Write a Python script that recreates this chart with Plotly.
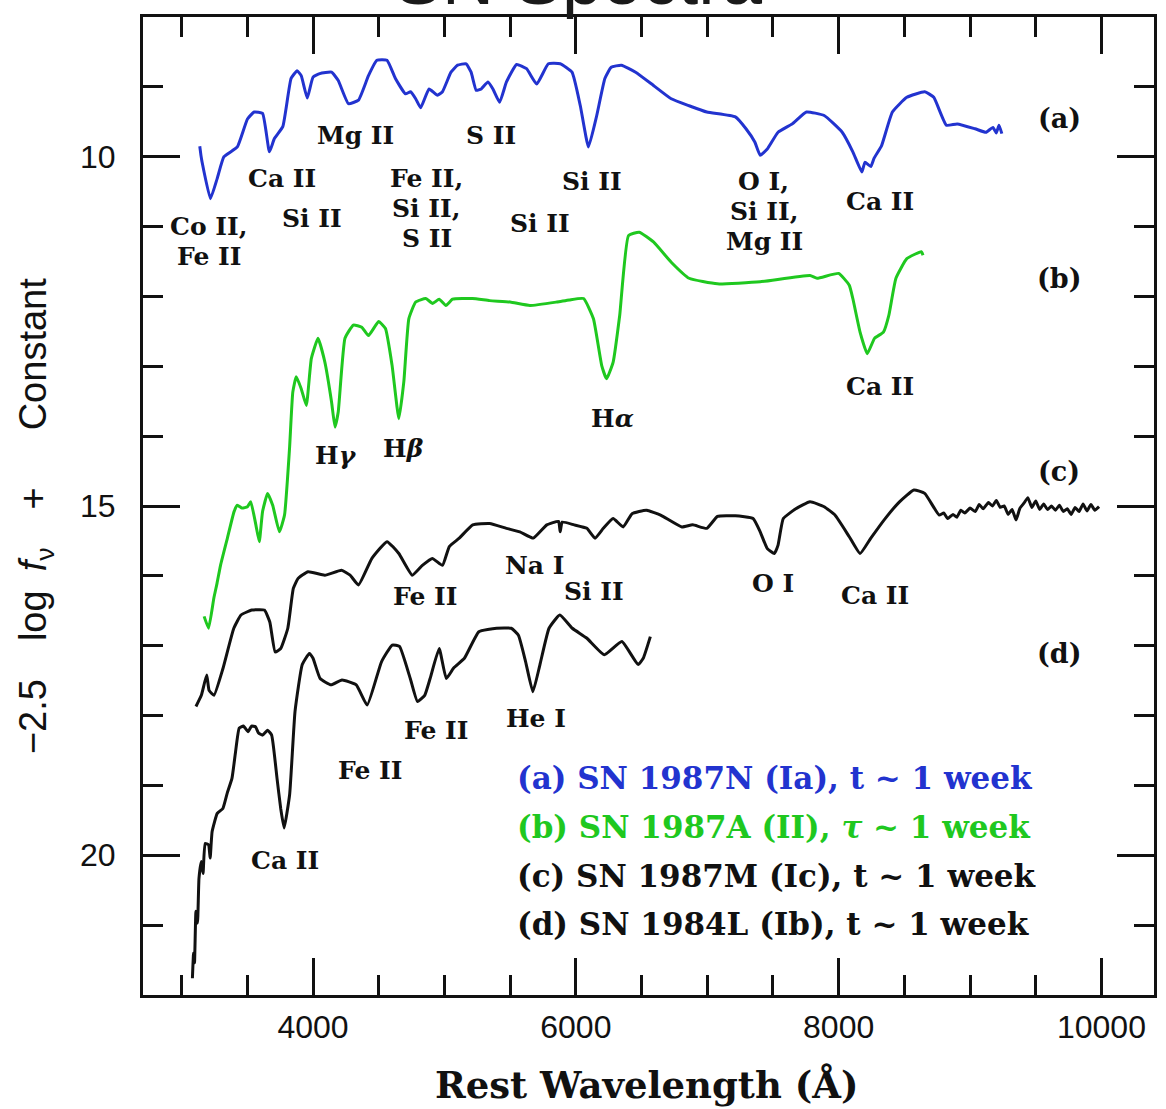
import plotly.graph_objects as go

# ---- spectra (rest wavelength in Angstrom, -2.5 log f_nu + constant) ----
wave_a = [3138, 3147, 3155, 3219, 3271, 3322, 3424, 3501, 3552, 3616, 3668, 3706, 3770, 3833, 3879,
          3910, 3956, 4000, 4051, 4141, 4192, 4269, 4346, 4422, 4486, 4563, 4627, 4704, 4742, 4781,
          4819, 4883, 4947, 4985, 5050, 5100, 5165, 5203, 5242, 5280, 5331, 5369, 5420, 5472, 5549,
          5625, 5702, 5791, 5881, 5971, 6034, 6096, 6159, 6221, 6269, 6347, 6455, 6591, 6726, 6862,
          6997, 7214, 7295, 7362, 7403, 7457, 7539, 7647, 7755, 7890, 8027, 8108, 8177, 8200, 8245,
          8270, 8327, 8409, 8519, 8655, 8724, 8820, 8902, 9038, 9121, 9174, 9200, 9220, 9242]
flux_a = [9.85, 9.98, 10.07, 10.60, 10.31, 10.00, 9.86, 9.46, 9.36, 9.38, 9.93, 9.74, 9.57, 8.88, 8.77,
          8.84, 9.16, 8.86, 8.81, 8.79, 8.91, 9.24, 9.19, 8.84, 8.62, 8.62, 8.88, 9.10, 9.07, 9.17,
          9.30, 9.03, 9.12, 9.07, 8.79, 8.69, 8.67, 8.79, 9.05, 9.03, 8.93, 9.03, 9.22, 8.93, 8.68,
          8.74, 8.96, 8.67, 8.67, 8.79, 9.27, 9.86, 9.41, 8.88, 8.72, 8.69, 8.79, 8.98, 9.17, 9.27,
          9.36, 9.43, 9.60, 9.79, 9.98, 9.89, 9.65, 9.53, 9.36, 9.41, 9.65, 9.93, 10.22, 10.08, 10.14,
          10.02, 9.84, 9.36, 9.15, 9.07, 9.15, 9.55, 9.53, 9.60, 9.65, 9.58, 9.66, 9.55, 9.67]

wave_b = [3171, 3205, 3245, 3270, 3296, 3347, 3399, 3424, 3460, 3501, 3526, 3565, 3591, 3616, 3654,
          3693, 3744, 3783, 3821, 3846, 3872, 3910, 3949, 3987, 4038, 4090, 4141, 4167, 4192, 4243,
          4307, 4371, 4422, 4499, 4551, 4601, 4653, 4691, 4729, 4781, 4858, 4910, 4960, 5011, 5062,
          5213, 5344, 5500, 5651, 5856, 5950, 6059, 6134, 6197, 6234, 6284, 6334, 6401, 6482, 6591,
          6726, 6862, 7077, 7403, 7782, 7836, 8000, 8081, 8108, 8163, 8218, 8273, 8341, 8382, 8436,
          8519, 8629, 8642]
flux_b = [16.58, 16.75, 16.32, 16.10, 15.85, 15.47, 15.08, 14.99, 15.03, 15.01, 14.94, 15.27, 15.51, 15.08, 14.82,
          14.99, 15.37, 15.13, 14.18, 13.37, 13.15, 13.32, 13.56, 12.89, 12.60, 12.94, 13.51, 13.87, 13.65, 12.60,
          12.41, 12.44, 12.56, 12.36, 12.46, 12.98, 13.75, 13.22, 12.32, 12.08, 12.03, 12.10, 12.04, 12.13, 12.04,
          12.03, 12.06, 12.08, 12.13, 12.08, 12.05, 12.03, 12.32, 12.99, 13.18, 12.94, 12.27, 11.13, 11.08, 11.22,
          11.51, 11.74, 11.82, 11.79, 11.70, 11.74, 11.67, 11.84, 12.03, 12.51, 12.82, 12.60, 12.51, 12.27, 11.74,
          11.46, 11.36, 11.41]

wave_c = [3109, 3150, 3191, 3209, 3246, 3314, 3397, 3452, 3534, 3630, 3671, 3712, 3754, 3808, 3850,
          3885, 3962, 4090, 4217, 4282, 4346, 4448, 4563, 4653, 4755, 4832, 4908, 4985, 5037, 5113,
          5215, 5344, 5472, 5574, 5676, 5779, 5868, 5881, 5896, 5987, 6084, 6146, 6209, 6284, 6360,
          6428, 6537, 6645, 6807, 6889, 6997, 7078, 7214, 7349, 7403, 7457, 7511, 7539, 7579, 7674,
          7782, 7890, 7972, 8081, 8163, 8245, 8354, 8463, 8573, 8655, 8765, 8800, 8830, 8870, 8900,
          8930, 8960, 9000, 9040, 9070, 9100, 9140, 9170, 9200, 9230, 9260, 9290, 9320, 9350, 9380,
          9410, 9440, 9470, 9500, 9530, 9560, 9590, 9620, 9650, 9680, 9710, 9740, 9770, 9800, 9830,
          9860, 9890, 9920, 9950, 9982]
flux_c = [17.87, 17.71, 17.42, 17.64, 17.71, 17.33, 16.75, 16.56, 16.49, 16.49, 16.66, 17.09, 17.04, 16.75, 16.18,
          16.04, 15.94, 15.99, 15.92, 15.99, 16.13, 15.75, 15.51, 15.68, 15.99, 15.85, 15.75, 15.85, 15.58, 15.46,
          15.27, 15.25, 15.32, 15.37, 15.46, 15.27, 15.22, 15.37, 15.23, 15.27, 15.32, 15.46, 15.32, 15.18, 15.30,
          15.11, 15.06, 15.13, 15.30, 15.27, 15.32, 15.15, 15.14, 15.18, 15.37, 15.61, 15.68, 15.56, 15.18, 15.04,
          14.94, 15.01, 15.13, 15.44, 15.68, 15.46, 15.18, 14.94, 14.77, 14.82, 15.13, 15.10, 15.18, 15.12, 15.16,
          15.06, 15.10, 15.03, 15.08, 14.98, 15.04, 14.95, 15.00, 14.92, 15.02, 15.00, 15.12, 15.05, 15.20, 15.03,
          14.96, 14.88, 15.02, 14.93, 15.05, 14.97, 15.05, 15.00, 15.06, 14.99, 15.08, 15.04, 15.12, 15.02, 15.08,
          14.97, 15.07, 14.98, 15.06, 15.01]

wave_d = [3082, 3091, 3098, 3109, 3121, 3132, 3150, 3163, 3179, 3205, 3217, 3232, 3271, 3314, 3347,
          3383, 3409, 3438, 3470, 3506, 3532, 3562, 3585, 3616, 3654, 3685, 3726, 3754, 3780, 3822,
          3863, 3918, 3972, 4000, 4054, 4137, 4220, 4329, 4412, 4521, 4603, 4658, 4740, 4795, 4850,
          4891, 4960, 5014, 5070, 5152, 5262, 5397, 5508, 5563, 5618, 5673, 5727, 5796, 5878, 5973,
          6082, 6217, 6350, 6474, 6513, 6567]
flux_d = [21.76, 21.40, 21.54, 20.80, 20.97, 20.33, 20.09, 20.26, 19.83, 19.85, 20.04, 19.66, 19.40, 19.33, 19.11,
          18.90, 18.54, 18.18, 18.15, 18.23, 18.15, 18.16, 18.25, 18.28, 18.21, 18.28, 18.90, 19.33, 19.61, 19.13,
          17.94, 17.27, 17.11, 17.18, 17.47, 17.56, 17.49, 17.56, 17.85, 17.23, 16.99, 17.01, 17.47, 17.80, 17.71,
          17.47, 17.04, 17.47, 17.32, 17.18, 16.80, 16.75, 16.75, 16.85, 17.23, 17.66, 17.27, 16.75, 16.56, 16.75,
          16.89, 17.13, 16.94, 17.27, 17.18, 16.87]

# ---- line identifications ----
ids_a_text = ["Co II,", "Fe II", "Ca II", "Si II", "Mg II", "Fe II,", "Si II,", "S II", "S II",
              "Si II", "Si II", "O I,", "Si II,", "Mg II", "Ca II"]
ids_a_wave = [3201, 3209, 3762, 3992, 4322, 4860, 4860, 4868, 5351, 5728, 6124, 7430, 7430, 7437, 8318]
ids_a_flux = [11.00, 11.43, 10.31, 10.89, 9.70, 10.31, 10.74, 11.17, 9.70, 10.96, 10.36, 10.36, 10.79, 11.22, 10.64]

ids_b_text = ["H<i>γ</i>", "H<i>β</i>", "H<i>α</i>", "Ca II"]
ids_b_wave = [4177, 4691, 6281, 8318]
ids_b_flux = [14.28, 14.18, 13.75, 13.29]

ids_c_text = ["Fe II", "Na I", "Si II", "O I", "Ca II"]
ids_c_wave = [4852, 5689, 6139, 7497, 8280]
ids_c_flux = [16.29, 15.85, 16.22, 16.11, 16.28]

ids_d_text = ["Ca II", "Fe II", "Fe II", "He I"]
ids_d_wave = [3785, 4430, 4937, 5697]
ids_d_flux = [20.08, 18.79, 18.22, 18.04]

# panel letters on the right
tag_text = ["(a)", "(b)", "(c)", "(d)"]
tag_flux = [9.46, 11.74, 14.50, 17.11]
tag_wave = 9680

# key text
key_text = ["(a) SN 1987N (Ia), t ~ 1 week",
            "(b) SN 1987A (II), <i>τ</i> ~ 1 week",
            "(c) SN 1987M (Ic), t ~ 1 week",
            "(d) SN 1984L (Ib), t ~ 1 week"]
key_flux = [18.89, 19.59, 20.29, 20.99]
key_wave = 5536

BLUE = "#2233cf"
GREEN = "#1fc81f"
BLACK = "#111111"
colors = [BLUE, GREEN, BLACK, BLACK]

LABEL_FONT = "DejaVu Serif"
NUM_FONT = "Liberation Sans, Arial, sans-serif"

fig = go.Figure()
for w, f, c in [(wave_a, flux_a, BLUE), (wave_b, flux_b, GREEN),
                (wave_c, flux_c, BLACK), (wave_d, flux_d, BLACK)]:
    fig.add_trace(go.Scatter(x=w, y=f, mode="lines",
                             line=dict(color=c, width=3, shape="spline", smoothing=0.4),
                             showlegend=False, hoverinfo="skip"))

ann = []
for texts, ws, fs in [(ids_a_text, ids_a_wave, ids_a_flux), (ids_b_text, ids_b_wave, ids_b_flux),
                      (ids_c_text, ids_c_wave, ids_c_flux), (ids_d_text, ids_d_wave, ids_d_flux)]:
    for t, w, f in zip(texts, ws, fs):
        ann.append(dict(x=w, y=f, xref="x", yref="y", text=t, showarrow=False,
                        xanchor="center", yanchor="middle",
                        font=dict(family=LABEL_FONT, size=25, color=BLACK, weight="bold")))

for t, f in zip(tag_text, tag_flux):
    ann.append(dict(x=tag_wave, y=f, xref="x", yref="y", text=t, showarrow=False,
                    xanchor="center", yanchor="middle",
                    font=dict(family=LABEL_FONT, size=27, color=BLACK, weight="bold")))

for t, f, c in zip(key_text, key_flux, colors):
    ann.append(dict(x=key_wave, y=f, xref="x", yref="y", text=t, showarrow=False,
                    xanchor="left", yanchor="middle",
                    font=dict(family=LABEL_FONT, size=31, color=c, weight="bold")))

# axis titles
ann.append(dict(x=0.498, y=-0.092, xref="paper", yref="paper", text="Rest Wavelength (Å)",
                showarrow=False, xanchor="center", yanchor="middle",
                font=dict(family=LABEL_FONT, size=37, color=BLACK, weight="bold")))
ann.append(dict(x=-0.1065, y=0.490, xref="paper", yref="paper", textangle=-90,
                text="−2.5\u2003log\u2002<i>f</i><sub>ν</sub>\u2003+\u2003\u2002Constant",
                showarrow=False, xanchor="center", yanchor="middle",
                font=dict(family=NUM_FONT, size=38, color=BLACK)))
# figure heading, running off the top edge
ann.append(dict(x=0.431, y=0.9959, xref="paper", yref="paper", text="SN Spectra",
                showarrow=False, xanchor="center", yanchor="bottom",
                font=dict(family=NUM_FONT, size=72, color="#1a1a1a")))

axis_common = dict(showline=True, linecolor=BLACK, linewidth=3, mirror="allticks",
                   ticks="inside", tickwidth=3, tickcolor=BLACK, ticklen=37,
                   showgrid=False, zeroline=False,
                   tickfont=dict(family=NUM_FONT, size=32, color=BLACK))

fig.update_layout(
    width=1166, height=1109,
    margin=dict(l=143, r=9, t=17, b=114),
    paper_bgcolor="white", plot_bgcolor="white",
    showlegend=False,
    annotations=ann,
    xaxis=dict(range=[2706, 10400], tick0=0, dtick=2000, tickformat="d",
               ticklabelstandoff=2,
               minor=dict(ticks="inside", ticklen=20, tickwidth=3, tickcolor=BLACK,
                          tick0=0, dtick=500, showgrid=False),
               **axis_common),
    yaxis=dict(range=[22, 8], tick0=0, dtick=5, tickformat="d",
               ticklabelstandoff=18,
               minor=dict(ticks="inside", ticklen=20, tickwidth=3, tickcolor=BLACK,
                          tick0=0, dtick=1, showgrid=False),
               **axis_common),
)

fig.write_html("out.html")
